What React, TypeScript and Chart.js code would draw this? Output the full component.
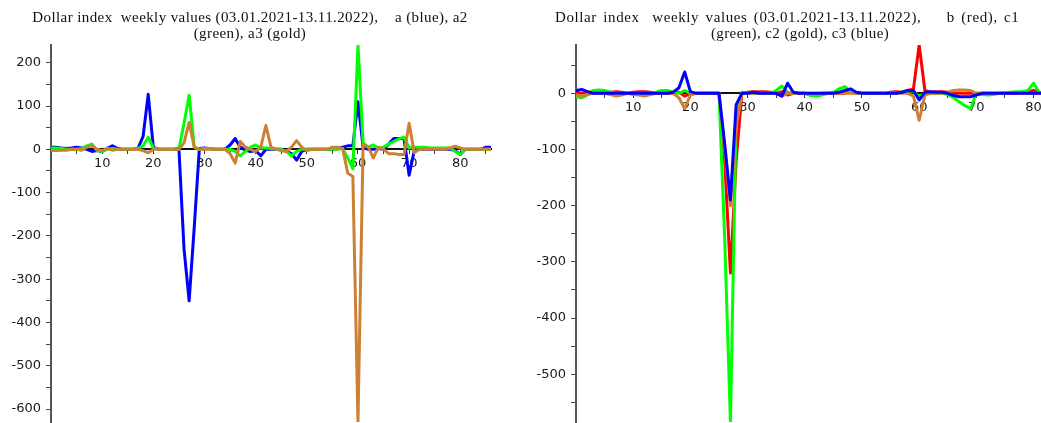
import React, { useEffect, useRef } from "react";
import { Chart, registerables } from "chart.js";

Chart.register(...registerables);

// ---------- Left panel: a (blue), a2 (green), a3 (gold), weeks 0..86 ----------
const leftWeekStart = 0;
const leftA = [
  5, 5, 3, 2, 3, 5, 3, 0, -5, -3,
  -5, 2, 8, 2, 0, 0, 0, 2, 30, 127,
  5, 0, 0, 0, 0, 2, -230, -350, -180, 2,
  3, 2, 0, 0, 0, 10, 25, 5, -2, -5,
  -3, -15, 0, 0, 0, 0, -5, -10, -25, -5,
  0, 0, 0, 0, 0, 0, 2, 5, 8, 8,
  110, 5, 0, 0, 2, 0, 12, 25, 25, 25,
  -60, -3, 0, 0, 0, 0, 0, 0, 0, -3,
  -12, 0, 0, 0, 0, 5, 5,
];
const leftA2 = [
  3, 3, 2, 0, 0, 0, 2, 8, 12, -3,
  -5, 0, 2, 0, 0, 0, 0, 2, 8, 28,
  3, 0, 0, 0, 0, 0, 60, 125, 5, 0,
  2, 2, 0, 0, 0, 0, -5, -15, -5, 5,
  10, 3, 3, 2, 0, 0, -5, -15, -5, 0,
  0, 0, 0, 0, 0, 0, 0, 2, -20, -45,
  240, 15, 5, 10, 2, 5, 12, 18, 24, 28,
  3, 5, 5, 5, 3, 3, 3, 3, 3, -5,
  -12, 0, 0, 0, 0, 0, 0,
];
const leftA3 = [
  -3, -3, -2, -2, 0, 0, -2, 5, 8, 0,
  -3, 2, -2, 0, 0, 0, 0, 0, -3, -8,
  0, 0, 0, 0, 0, 0, 15, 62, 5, 0,
  0, 0, 0, 0, 0, -10, -32, 18, 5, 0,
  -5, 5, 55, 5, 0, -3, -5, 5, 20, 5,
  -3, 0, 0, 0, 0, 5, 5, 2, -55, -63,
  -630, 10, 5, -20, 5, 0, -10, -10, -12, -12,
  60, -8, 0, 0, 0, 0, 0, 0, 3, 7,
  3, 0, 0, 0, 0, 0, 0,
];
const leftXTickLabels = [10, 20, 30, 40, 50, 60, 70, 80];
const leftXMinorTicks = [5, 15, 25, 35, 45, 55, 65, 75, 85];
const leftYTickLabels = [200, 100, 0, -100, -200, -300, -400, -500, -600];
const leftYMinorTicks = [150, 50, -50, -150, -250, -350, -450, -550];

// ---------- Right panel: b (red), c1 (green), c2 (gold), c3 (blue), weeks 0..82 ----------
const rightWeekStart = 0;
const rightB = [
  2, 0, 2, 3, 5, 3, 2, 3, 2, 0,
  2, 3, 3, 2, 0, 0, 0, 0, 2, -5,
  0, 0, 0, 0, 0, 0, -120, -320, -120, 0,
  2, 3, 3, 3, 2, 0, 3, -3, 0, 0,
  0, -2, -3, 0, 0, 0, 0, 0, 2, 0,
  0, 0, 0, 0, 0, 2, 3, 2, 5, 8,
  86, 5, 2, 3, 3, 2, 0, 0, 0, 0,
  0, 0, 0, 0, 0, 0, 0, 0, 2, 3,
  5, 2, 0,
];
const rightC1 = [
  -6, -8, -3, 5, 6, 5, 2, 0, 0, 0,
  0, 0, 0, 0, 2, 5, 5, 2, 0, 5,
  0, 0, 0, 0, 0, 0, -260, -585, -40, 2,
  0, 0, 0, 0, 0, 5, 13, 2, 0, 0,
  0, -4, -5, -3, 0, 2, 8, 12, 3, 0,
  0, 0, 0, 0, 0, 0, 0, 3, 5, 3,
  -5, 0, 0, 0, 0, -2, -8, -15, -22, -27,
  0, -2, -3, -2, 0, 0, 2, 3, 3, 5,
  18, 2, 0,
];
const rightC2 = [
  -3, -5, -2, 0, 0, 0, -2, -5, -3, 0,
  -2, -3, -5, -2, 0, 0, 0, 0, -8, -27,
  -3, 0, 0, 0, 0, 0, -100, -200, -60, 0,
  0, 0, 0, 0, 0, 0, -5, 0, 0, 0,
  0, 0, 0, 0, 0, 0, 0, 0, 0, 0,
  0, 0, 0, 0, 0, 0, 0, 0, 0, -5,
  -48, -3, 0, 0, 0, 2, 5, 6, 6, 5,
  0, 0, 0, 0, 0, 0, 0, 0, 0, 0,
  0, 0, 0,
];
const rightC3 = [
  5, 7, 3, 0, 0, 0, 0, 0, 0, 0,
  0, 0, 0, 0, 0, 0, 0, 2, 10, 38,
  3, 0, 0, 0, 0, 0, -90, -190, -20, 0,
  0, 2, 0, 0, 0, 0, -5, 18, 2, 0,
  0, 0, 0, 0, 0, 0, 2, 5, 8, 2,
  0, 0, 0, 0, 0, 0, 0, 2, 5, 5,
  -12, 2, 3, 2, 2, 0, -4, -6, -6, -6,
  -3, 0, 0, 0, 0, 0, 0, 0, 0, 0,
  0, 0, 0,
];
const rightXTickLabels = [10, 20, 30, 40, 50, 60, 70, 80];
const rightXMinorTicks = [5, 15, 25, 35, 45, 55, 65, 75];
const rightYTickLabels = [0, -100, -200, -300, -400, -500];
const rightYMinorTicks = [50, -50, -150, -250, -350, -450, -550];

const leftTitle1 = "Dollar index  weekly values (03.01.2021-13.11.2022),    a (blue), a2";
const leftTitle2 = "(green), a3 (gold)";
const rightTitle1 = "Dollar index  weekly values (03.01.2021-13.11.2022),    b (red), c1";
const rightTitle2 = "(green), c2 (gold), c3 (blue)";

const BLUE = "#0000ff";
const GREEN = "#00ff00";
const GOLD = "#cd7f32";
const RED = "#ff0000";

type Series = { values: number[]; color: string };

const Y_AXIS_WIDTH = 40;

function makeConfig(p: {
  series: Series[];
  x0: number;
  xMin: number;
  xMax: number;
  yMin: number;
  yMax: number;
  xLabels: number[];
  xMinor: number[];
  yLabels: number[];
  yMinor: number[];
  padding: { left: number; right: number; top: number; bottom: number };
}): any {
  const tickFont = { family: "'DejaVu Sans', sans-serif", size: 13 };
  const fmt = (v: number) => (v < 0 ? "-" + Math.abs(v) : String(v));
  return {
    type: "line",
    data: {
      datasets: p.series.map((s) => ({
        data: s.values.map((v, i) => ({ x: i + p.x0, y: v })),
        borderColor: s.color,
        backgroundColor: s.color,
        borderWidth: 3,
        borderJoinStyle: "round",
        borderCapStyle: "round",
        pointRadius: 0,
        tension: 0,
        fill: false,
      })),
    },
    options: {
      responsive: false,
      animation: false,
      events: [],
      layout: { padding: p.padding },
      plugins: {
        legend: { display: false },
        title: { display: false },
        tooltip: { enabled: false },
      },
      scales: {
        x: {
          type: "linear",
          min: p.xMin,
          max: p.xMax,
          position: { y: 0 },
          z: 1,
          afterBuildTicks: (s: any) => {
            s.ticks = [...p.xLabels, ...p.xMinor].sort((a, b) => a - b).map((v) => ({ value: v }));
          },
          afterFit: (s: any) => {
            s.paddingLeft = 0;
            s.paddingRight = 0;
            s.paddingTop = 0;
            s.paddingBottom = 0;
          },
          ticks: {
            autoSkip: false,
            maxRotation: 0,
            padding: 3,
            color: "#1a1a1a",
            font: tickFont,
            callback: (v: number) => (p.xLabels.includes(v) ? fmt(v) : ""),
          },
          grid: {
            drawOnChartArea: false,
            drawTicks: true,
            tickLength: 4,
            tickColor: "#333",
            tickWidth: 1,
          },
          border: { display: true, color: "#111", width: 2 },
        },
        y: {
          type: "linear",
          min: p.yMin,
          max: p.yMax,
          position: "left",
          z: 1,
          afterBuildTicks: (s: any) => {
            s.ticks = [...p.yLabels, ...p.yMinor].sort((a, b) => a - b).map((v) => ({ value: v }));
          },
          afterFit: (s: any) => {
            s.width = Y_AXIS_WIDTH;
            s.paddingTop = 0;
            s.paddingBottom = 0;
          },
          ticks: {
            autoSkip: false,
            padding: 5,
            color: "#1a1a1a",
            font: tickFont,
            callback: (v: number) => (p.yLabels.includes(v) ? fmt(v) : ""),
          },
          grid: {
            drawOnChartArea: false,
            drawTicks: true,
            tickLength: 5,
            tickColor: "#444",
            tickWidth: 1,
          },
          border: { display: true, color: "#555", width: 2 },
        },
      },
    },
  };
}

export default function App() {
  const leftRef = useRef<HTMLCanvasElement>(null);
  const rightRef = useRef<HTMLCanvasElement>(null);

  useEffect(() => {
    const left = new Chart(
      leftRef.current as HTMLCanvasElement,
      makeConfig({
        series: [
          { values: leftA3, color: GOLD },
          { values: leftA2, color: GREEN },
          { values: leftA, color: BLUE },
        ],
        x0: leftWeekStart,
        xMin: 0,
        xMax: 86,
        yMin: -630,
        yMax: 241,
        xLabels: leftXTickLabels,
        xMinor: leftXMinorTicks,
        yLabels: leftYTickLabels,
        yMinor: leftYMinorTicks,
        padding: { left: 51 - Y_AXIS_WIDTH, right: 29, top: 45, bottom: 1 },
      })
    );
    const right = new Chart(
      rightRef.current as HTMLCanvasElement,
      makeConfig({
        series: [
          { values: rightC3, color: BLUE },
          { values: rightC2, color: GOLD },
          { values: rightC1, color: GREEN },
          { values: rightB, color: RED },
        ],
        x0: rightWeekStart,
        xMin: 0,
        xMax: 81.3,
        yMin: -585,
        yMax: 86,
        xLabels: rightXTickLabels,
        xMinor: rightXMinorTicks,
        yLabels: rightYTickLabels,
        yMinor: rightYMinorTicks,
        padding: { left: 56 - Y_AXIS_WIDTH, right: 0, top: 45, bottom: 1 },
      })
    );
    return () => {
      left.destroy();
      right.destroy();
    };
  }, []);

  const titleFont: React.CSSProperties = {
    position: "absolute",
    fontFamily: "'Liberation Serif', 'Times New Roman', serif",
    fontSize: 15,
    letterSpacing: "0.4px",
    lineHeight: "16px",
    color: "#111",
    whiteSpace: "pre",
  };

  return (
    <div
      style={{
        position: "absolute",
        left: 0,
        top: 0,
        width: 1041,
        height: 423,
        overflow: "hidden",
        background: "#fff",
      }}
    >
      <canvas ref={leftRef} width={520} height={423} style={{ position: "absolute", left: 0, top: 0 }} />
      <canvas ref={rightRef} width={521} height={423} style={{ position: "absolute", left: 520, top: 0 }} />
      <div style={{ ...titleFont, left: 0, width: 500, top: 9, textAlign: "center" }}>
        {leftTitle1 + "\n" + leftTitle2}
      </div>
      <div style={{ ...titleFont, left: 555, top: 9, letterSpacing: "0.6px", wordSpacing: "2px" }}>{rightTitle1}</div>
      <div style={{ ...titleFont, left: 600, width: 400, top: 25, textAlign: "center" }}>{rightTitle2}</div>
    </div>
  );
}
